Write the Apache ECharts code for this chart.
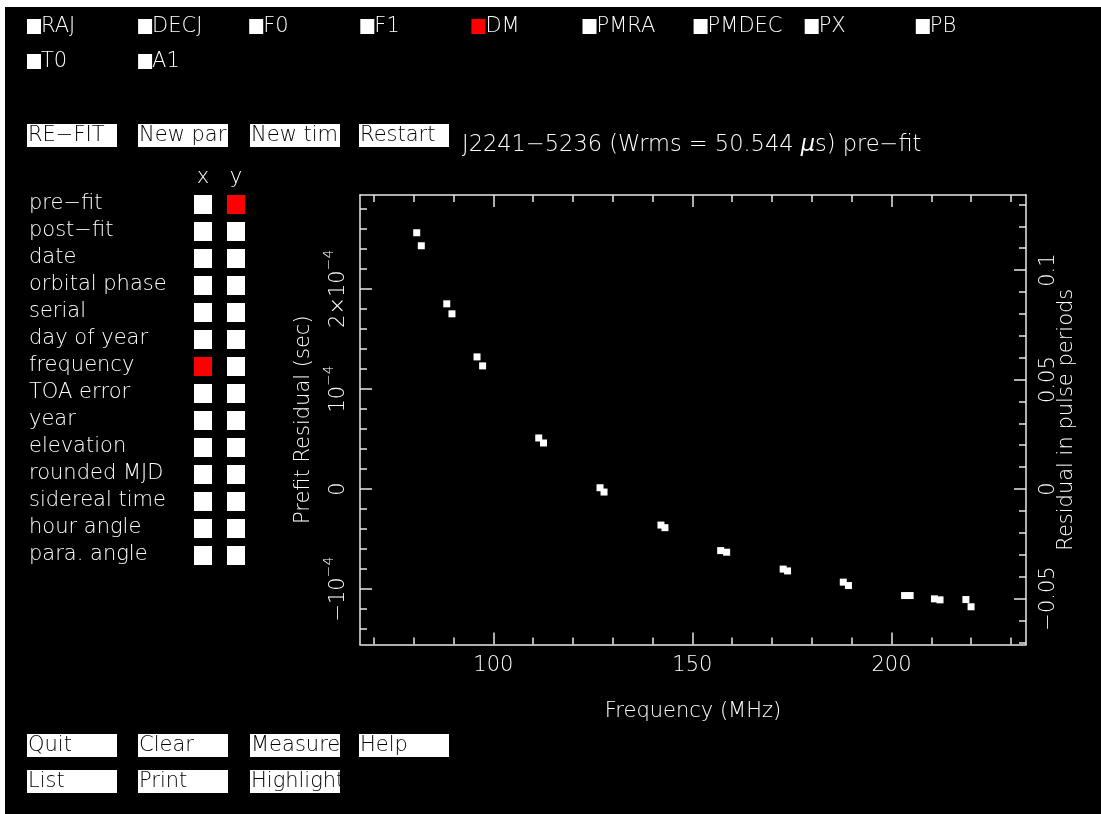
<!DOCTYPE html>
<html>
<head>
<meta charset="utf-8">
<script src="https://cdn.jsdelivr.net/npm/echarts@6/dist/echarts.min.js"></script>
<style>
html, body { margin: 0; padding: 0; background: #fff; }
#plk { width: 1101px; height: 814px; }
</style>
</head>
<body>
<div id="plk"></div>
<script>
// TOA observing frequencies (MHz) and pre-fit timing residuals (s)
const freqMHz = [80.75, 81.9, 88.3, 89.6, 95.9, 97.3, 111.4, 112.6, 126.8, 127.8,
  142.1, 143.1, 157.1, 158.6, 172.8, 173.9, 187.9, 189.2, 203.3, 204.7,
  210.8, 212.2, 218.7, 220.0];
const prefitResSec = [2.56e-4, 2.43e-4, 1.85e-4, 1.75e-4, 1.32e-4, 1.23e-4, 0.51e-4, 0.46e-4,
  0.013e-4, -0.03e-4, -0.36e-4, -0.386e-4, -0.615e-4, -0.631e-4, -0.80e-4, -0.818e-4,
  -0.93e-4, -0.964e-4, -1.064e-4, -1.064e-4, -1.097e-4, -1.107e-4, -1.104e-4, -1.176e-4];

// pulsar spin period (s), converts seconds to pulse periods on the right axis
const spinPeriodSec = 2.187e-3;

// axis ranges
const freqRange = [66.5, 233.8];
const resRange = [-1.553e-4, 2.937e-4];

// ticks and tick labels
const freqMajorTicks = [100, 150, 200];
const freqTickLabels = ['100', '150', '200'];
const freqMinorTicks = [70, 80, 90, 110, 120, 130, 140, 160, 170, 180, 190, 210, 220, 230];
const resMajorTicks = [-1e-4, 0, 1e-4, 2e-4];
const resTickLabels = ['\u221210{s|\u22124}', '0', '10{s|\u22124}', '2\u00d710{s|\u22124}'];
const resMinorTicks = [-1.4e-4, -1.2e-4, -0.8e-4, -0.6e-4, -0.4e-4, -0.2e-4, 0.2e-4, 0.4e-4,
  0.6e-4, 0.8e-4, 1.2e-4, 1.4e-4, 1.6e-4, 1.8e-4, 2.2e-4, 2.4e-4, 2.6e-4, 2.8e-4];
const phaseMajorTicks = [-0.05, 0, 0.05, 0.1];
const phaseTickLabels = ['\u22120.05', '0', '0.05', '0.1'];
const phaseMinorTicks = [-0.07, -0.06, -0.04, -0.03, -0.02, -0.01, 0.01, 0.02, 0.03, 0.04,
  0.06, 0.07, 0.08, 0.09, 0.11, 0.12, 0.13];

// control panel contents
const fitParams = ['RAJ', 'DECJ', 'F0', 'F1', 'DM', 'PMRA', 'PMDEC', 'PX', 'PB', 'T0', 'A1'];
const fittedParams = ['DM'];
const plotQuantities = ['pre\u2212fit', 'post\u2212fit', 'date', 'orbital phase', 'serial',
  'day of year', 'frequency', 'TOA error', 'year', 'elevation', 'rounded MJD',
  'sidereal time', 'hour angle', 'para. angle'];
const xQuantity = 'frequency';
const yQuantity = 'pre\u2212fit';
const topButtons = ['RE\u2212FIT', 'New par', 'New tim', 'Restart'];
const bottomButtons = [['Quit', 'Clear', 'Measure', 'Help'], ['List', 'Print', 'Highlight']];
const titleText = 'J2241\u22125236 (Wrms = 50.544 {mu|\u03bc}s) pre\u2212fit';

const FONT = 'DejaVu Sans';
const FW = 200;
const FS = 21;
const FG = '#ffffff';
const AXC = '#e8e8e8';
const RED = '#ff0000';

function labelFor(ticks, labels) {
  return function (v) {
    let best = 0;
    for (let i = 1; i < ticks.length; i++) {
      if (Math.abs(ticks[i] - v) < Math.abs(ticks[best] - v)) best = i;
    }
    return labels[best];
  };
}

function txt(text, x, y, opts) {
  return {
    type: 'text', silent: true, z: 10,
    style: Object.assign({
      text: text, x: x, y: y, fill: FG, fontFamily: FONT, fontSize: FS, fontWeight: FW,
      align: 'left', verticalAlign: 'middle', textAlign: 'left', textVerticalAlign: 'middle'
    }, opts || {})
  };
}
function box(x, y, w, h, fill) {
  return { type: 'rect', silent: true, z: 5, shape: { x: x, y: y, width: w, height: h }, style: { fill: fill } };
}

const graphics = [];
// window edges
graphics.push(box(0, 0, 1101, 7, '#fff'));
graphics.push(box(0, 0, 5, 814, '#fff'));

// fit parameter toggles
fitParams.forEach(function (p, i) {
  const col = i % 9, row = Math.floor(i / 9);
  const x = 27 + col * 111.1, yc = 27 + row * 35;
  graphics.push(box(x, yc - 8, 14, 15, fittedParams.indexOf(p) >= 0 ? RED : '#fff'));
  graphics.push(txt(p, x + 14, yc));
});

// command buttons
const btnX = [27, 138, 250, 359];
function button(label, i, top) {
  graphics.push(box(btnX[i], top, 90, 23, '#fff'));
  graphics.push(txt(label, btnX[i] + 1, top + 12, { fill: '#000' }));
}
topButtons.forEach(function (b, i) { button(b, i, 124); });
bottomButtons[0].forEach(function (b, i) { button(b, i, 734); });
bottomButtons[1].forEach(function (b, i) { button(b, i, 770); });

// title
graphics.push(txt(titleText, 462, 145, {
  fontSize: 22.5,
  rich: { mu: { fontStyle: 'italic', fontFamily: FONT, fontWeight: FW, fontSize: 22.5, fill: FG } }
}));

// axis quantity selector
graphics.push(txt('x', 203, 178, { align: 'center', textAlign: 'center' }));
graphics.push(txt('y', 236, 178, { align: 'center', textAlign: 'center' }));
plotQuantities.forEach(function (q, i) {
  const yc = 204.5 + i * 27;
  graphics.push(txt(q, 29, yc - 1));
  graphics.push(box(194, yc - 9.5, 18, 19, q === xQuantity ? RED : '#fff'));
  graphics.push(box(227, yc - 9.5, 18, 19, q === yQuantity ? RED : '#fff'));
});

const lineStyle = { color: AXC, width: 1.5 };
const nameStyle = { color: FG, fontFamily: FONT, fontSize: FS, fontWeight: FW };

function freqAxis(position, ticks, len, withLine, labels) {
  return {
    type: 'value', position: position, min: freqRange[0], max: freqRange[1],
    axisLine: { show: withLine, onZero: false, lineStyle: lineStyle },
    splitLine: { show: false },
    axisTick: { show: true, inside: true, length: len, customValues: ticks, lineStyle: lineStyle },
    axisLabel: labels ? {
      show: true, customValues: ticks, formatter: labelFor(freqMajorTicks, freqTickLabels),
      color: FG, fontFamily: FONT, fontSize: FS, fontWeight: FW, margin: 11
    } : { show: false }
  };
}

function resAxis(position, min, max, ticks, len, withLine) {
  return {
    type: 'value', position: position, min: min, max: max,
    axisLine: { show: withLine, onZero: false, lineStyle: lineStyle },
    splitLine: { show: false },
    axisTick: { show: true, inside: true, length: len, customValues: ticks, lineStyle: lineStyle },
    axisLabel: { show: false }
  };
}

const phaseMin = resRange[0] / spinPeriodSec;
const phaseMax = resRange[1] / spinPeriodSec;

const option = {
  backgroundColor: '#000',
  animation: false,
  graphic: { elements: graphics },
  grid: { left: 360, top: 195, width: 666, height: 449.5 },
  xAxis: [
    Object.assign(freqAxis('bottom', freqMajorTicks, 12, true, true), {
      name: 'Frequency (MHz)', nameLocation: 'middle', nameGap: 57, nameTextStyle: nameStyle
    }),
    freqAxis('bottom', freqMinorTicks, 7, false, false),
    freqAxis('top', freqMajorTicks, 12, true, false),
    freqAxis('top', freqMinorTicks, 7, false, false)
  ],
  yAxis: [
    Object.assign(resAxis('left', resRange[0], resRange[1], resMajorTicks, 12, true), {
      axisLabel: {
        show: true, customValues: resMajorTicks, rotate: 90, margin: 4,
        formatter: labelFor(resMajorTicks, resTickLabels),
        color: FG, fontFamily: FONT, fontSize: FS, fontWeight: FW, lineHeight: 34,
        rich: { s: { fontFamily: FONT, fontWeight: FW, fontSize: 14, lineHeight: 14, verticalAlign: 'top', color: FG } }
      },
      name: 'Prefit Residual (sec)', nameLocation: 'middle', nameRotate: 90, nameGap: 43,
      nameTextStyle: nameStyle
    }),
    resAxis('left', resRange[0], resRange[1], resMinorTicks, 7, false),
    Object.assign(resAxis('right', phaseMin, phaseMax, phaseMajorTicks, 12, true), {
      axisLabel: {
        show: true, customValues: phaseMajorTicks, rotate: 90, margin: 11,
        formatter: labelFor(phaseMajorTicks, phaseTickLabels),
        color: FG, fontFamily: FONT, fontSize: FS, fontWeight: FW, lineHeight: 24
      },
      name: 'Residual in pulse periods', nameLocation: 'middle', nameRotate: 90, nameGap: 30,
      nameMoveOverlap: false,
      nameTextStyle: nameStyle
    }),
    resAxis('right', phaseMin, phaseMax, phaseMinorTicks, 7, false)
  ],
  series: [{
    type: 'scatter', xAxisIndex: 0, yAxisIndex: 0,
    symbol: 'rect', symbolSize: 7,
    itemStyle: { color: '#fff', opacity: 1 },
    silent: true,
    data: freqMHz.map(function (f, i) { return [f, prefitResSec[i]]; })
  }]
};

const chart = echarts.init(document.getElementById('plk'), null, { renderer: 'canvas' });
chart.setOption(option);
</script>
</body>
</html>
